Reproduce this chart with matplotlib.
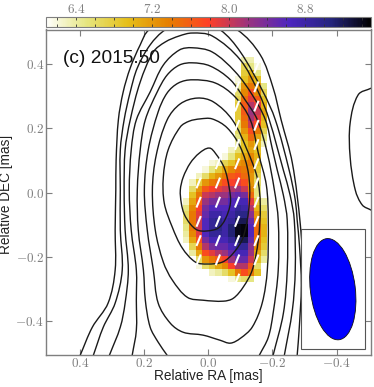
import numpy as np
import matplotlib
matplotlib.use('Agg')
import matplotlib.pyplot as plt
from matplotlib.path import Path
from matplotlib.patches import PathPatch, Rectangle, Ellipse

n = np.nan

# polarized flux map, rows from north to south, 0.02 mas cells
map_extent = [0.08, -0.18, -0.28, 0.42]
pol_map = [
    [n, n, n, n, n, n, n, n, n, 6.35, 6.35, n, n],
    [n, n, n, n, n, n, n, n, n, 6.7, 6.5, 6.2, n],
    [n, n, n, n, n, n, n, n, n, 6.8, 7.0, 6.5, n],
    [n, n, n, n, n, n, n, n, 6.2, 6.9, 7.2, 6.9, n],
    [n, n, n, n, n, n, n, n, 6.4, 7.2, 7.4, 7.2, 6.5],
    [n, n, n, n, n, n, n, n, 6.6, 7.3, 7.7, 7.3, 6.7],
    [n, n, n, n, n, n, n, n, 6.7, 7.5, 7.9, 7.6, 6.9],
    [n, n, n, n, n, n, n, n, 6.8, 7.6, 8.1, 7.9, 7.0],
    [n, n, n, n, n, n, n, n, 6.8, 7.6, 8.2, 8.0, 7.1],
    [n, n, n, n, n, n, n, n, 6.8, 7.5, 8.15, 7.9, 7.0],
    [n, n, n, n, n, n, n, n, 6.7, 7.4, 8.0, 7.7, 6.9],
    [n, n, n, n, n, n, n, n, 6.6, 7.2, 7.7, 7.4, 6.7],
    [n, n, n, n, n, n, n, n, 6.5, 7.0, 7.5, 7.1, 6.5],
    [n, n, n, n, n, n, n, n, 6.4, 6.9, 7.2, 6.9, 6.3],
    [n, n, n, n, n, n, n, 6.3, 6.6, 6.9, 7.1, 6.9, n],
    [n, n, n, n, n, n, 6.2, 6.5, 6.9, 7.1, 7.3, 7.0, n],
    [n, n, n, n, 6.2, 6.3, 6.7, 6.9, 7.2, 7.3, 7.4, 6.9, n],
    [n, n, n, 6.2, 6.5, 6.8, 7.1, 7.3, 7.5, 7.4, 7.3, 6.8, n],
    [n, n, 6.3, 6.6, 7.0, 7.2, 7.4, 7.6, 7.7, 7.5, 7.2, 6.7, n],
    [n, 6.3, 6.8, 7.2, 7.4, 7.5, 7.7, 7.8, 7.9, 7.7, 7.2, 6.6, n],
    [n, 6.6, 7.2, 7.6, 7.8, 7.9, 8.0, 8.1, 8.2, 8.0, 7.3, 6.5, n],
    [n, 6.9, 7.4, 8.0, 8.1, 8.2, 8.2, 8.4, 8.5, 8.4, 7.5, 6.5, n],
    [6.3, 7.1, 7.6, 8.2, 8.4, 8.4, 8.4, 8.6, 8.7, 8.7, 7.9, 6.8, 6.4],
    [6.5, 7.3, 7.8, 8.4, 8.6, 8.6, 8.6, 8.7, 8.9, 8.8, 8.1, 7.0, 6.6],
    [6.6, 7.4, 7.9, 8.5, 8.8, 8.8, 8.7, 8.8, 9.0, 9.0, 8.3, 7.2, 6.8],
    [6.6, 7.4, 8.0, 8.6, 8.9, 9.0, 8.8, 8.9, 9.2, 9.2, 8.5, 7.4, 6.9],
    [6.5, 7.4, 8.0, 8.6, 8.9, 9.0, 8.8, 9.1, 9.4, 9.45, 8.6, 7.5, 7.0],
    [6.4, 7.3, 7.9, 8.6, 8.9, 8.9, 8.8, 9.1, 9.4, 9.45, 8.6, 7.5, 7.0],
    [6.3, 7.1, 7.7, 8.4, 8.7, 8.7, 8.7, 8.9, 9.2, 9.2, 8.5, 7.4, 6.9],
    [n, 6.7, 7.4, 8.1, 8.4, 8.5, 8.5, 8.7, 8.9, 8.9, 8.3, 7.3, 6.8],
    [n, 6.4, 7.1, 7.7, 7.9, 8.1, 8.2, 8.5, 8.7, 8.7, 8.2, 7.1, 6.6],
    [n, n, 6.6, 7.2, 7.4, 7.6, 7.8, 8.2, 8.5, 8.5, 8.0, 6.9, 6.4],
    [n, n, 6.2, 6.6, 6.8, 7.1, 7.3, 7.8, 8.1, 8.1, 7.6, 6.6, n],
    [n, n, n, n, 6.3, 6.4, 6.6, 6.9, 7.4, 7.7, 7.4, 6.9, n],
    [n, n, n, n, n, n, n, 6.2, 6.5, 6.6, 6.5, n, n],
]

# total intensity contours (RA, DEC)
c1 = [(-0.003, 0.139), (0.028, 0.123), (0.056, 0.092), (0.078, 0.048), (0.087, 0.008), (0.084, -0.033),
      (0.075, -0.067), (0.056, -0.098), (0.034, -0.117), (0.006, -0.120), (-0.031, -0.111), (-0.053, -0.083),
      (-0.069, -0.033), (-0.065, 0.017), (-0.050, 0.077), (-0.022, 0.123)]
c2 = [(0.025, 0.230), (0.059, 0.223), (0.087, 0.205), (0.125, 0.133), (0.140, 0.048), (0.137, -0.033),
      (0.112, -0.108), (0.081, -0.173), (0.040, -0.217), (0.003, -0.223), (-0.044, -0.217), (-0.078, -0.189),
      (-0.109, -0.139), (-0.128, -0.033), (-0.125, 0.061), (-0.100, 0.142), (-0.059, 0.202), (-0.012, 0.230)]
c3 = [(0.034, 0.295), (0.087, 0.277), (0.128, 0.227), (0.162, 0.117), (0.174, 0.008), (0.165, -0.117),
      (0.140, -0.217), (0.112, -0.273), (0.065, -0.327), (0.016, -0.336), (-0.047, -0.339), (-0.078, -0.330),
      (-0.109, -0.295), (-0.137, -0.242), (-0.156, -0.148), (-0.162, -0.039), (-0.153, 0.045), (-0.121, 0.133),
      (-0.075, 0.227), (-0.016, 0.283)]
c4 = [(0.050, 0.352), (0.093, 0.342), (0.128, 0.311), (0.156, 0.252), (0.187, 0.133), (0.199, 0.008),
      (0.190, -0.117), (0.171, -0.242), (0.156, -0.345), (0.118, -0.408), (0.078, -0.436), (0.016, -0.445),
      (-0.037, -0.461), (-0.069, -0.470), (-0.100, -0.455), (-0.137, -0.420), (-0.168, -0.345), (-0.184, -0.242),
      (-0.187, -0.086), (-0.181, 0.023), (-0.156, 0.123), (-0.131, 0.227), (-0.084, 0.298), (-0.022, 0.342)]
c5 = [(0.128, -0.508), (0.156, -0.467), (0.181, -0.420), (0.196, -0.336), (0.202, -0.242), (0.218, -0.117),
      (0.221, 0.008), (0.212, 0.133), (0.196, 0.227), (0.159, 0.314), (0.128, 0.367), (0.090, 0.398),
      (0.050, 0.405), (-0.006, 0.395), (-0.069, 0.352), (-0.115, 0.289), (-0.153, 0.227), (-0.184, 0.123),
      (-0.206, 0.008), (-0.218, -0.086), (-0.218, -0.242), (-0.202, -0.377), (-0.187, -0.452), (-0.159, -0.508)]
c6 = [(0.237, -0.508), (0.224, -0.430), (0.224, -0.336), (0.224, -0.242), (0.240, -0.117), (0.246, 0.008),
      (0.240, 0.133), (0.224, 0.227), (0.181, 0.314), (0.140, 0.398), (0.090, 0.445), (0.050, 0.452),
      (-0.012, 0.439), (-0.084, 0.377), (-0.137, 0.305), (-0.178, 0.227), (-0.199, 0.139), (-0.215, 0.070),
      (-0.234, -0.008), (-0.246, -0.086), (-0.246, -0.242), (-0.234, -0.377), (-0.202, -0.508)]
c7 = [(0.308, -0.508), (0.274, -0.420), (0.259, -0.345), (0.249, -0.242), (0.259, -0.117), (0.262, 0.008),
      (0.259, 0.133), (0.243, 0.227), (0.212, 0.345), (0.171, 0.439), (0.134, 0.470), (0.090, 0.489),
      (0.050, 0.498), (-0.012, 0.489), (-0.100, 0.414), (-0.156, 0.314), (-0.190, 0.227), (-0.234, 0.070),
      (-0.255, -0.008), (-0.268, -0.086), (-0.271, -0.242), (-0.262, -0.367), (-0.237, -0.508)]
c8 = [(0.358, -0.508), (0.327, -0.420), (0.290, -0.345), (0.268, -0.242), (0.274, -0.117), (0.274, 0.008),
      (0.274, 0.133), (0.262, 0.227), (0.243, 0.314), (0.221, 0.389), (0.181, 0.461), (0.134, 0.508),
      (0.050, 0.545), (-0.037, 0.508), (-0.100, 0.439), (-0.171, 0.314), (-0.209, 0.227), (-0.252, 0.070),
      (-0.271, -0.023), (-0.277, -0.086), (-0.284, -0.164), (-0.290, -0.289), (-0.283, -0.430), (-0.277, -0.508)]
c9 = [(0.399, -0.508), (0.361, -0.420), (0.312, -0.345), (0.290, -0.242), (0.290, -0.117), (0.288, 0.008),
      (0.287, 0.102), (0.280, 0.227), (0.265, 0.314), (0.243, 0.389), (0.212, 0.461), (0.184, 0.508),
      (0.050, 0.570), (-0.090, 0.508), (-0.162, 0.430), (-0.202, 0.327), (-0.227, 0.227), (-0.262, 0.092),
      (-0.287, -0.102), (-0.300, -0.305)]
c10 = [(-0.508, 0.326), (-0.467, 0.305), (-0.442, 0.217), (-0.442, 0.111), (-0.458, 0.008), (-0.480, -0.039),
       (-0.508, -0.055)]
closed_contours = [c1, c2, c3, c4]
open_contours = [c5, c6, c7, c8, c9, c10]

# polarization sticks: column RA -> DEC of each stick
stick_ra = [0.03, -0.03, -0.09, -0.15]
stick_dec = [
    [0.03, -0.03, -0.09, -0.15, -0.21],
    [0.09, 0.03, -0.03, -0.09, -0.15, -0.21],
    [0.33, 0.27, 0.21, 0.15, 0.09, 0.03, -0.03, -0.09, -0.15, -0.21, -0.27],
    [0.39, 0.33, 0.27, 0.21, 0.15, 0.09, 0.03, -0.03, -0.09, -0.15, -0.21],
]
stick_angle = 22
stick_len = 0.036

cbar_ticks = [6.4, 7.2, 8.0, 8.8]
ra_ticks = [0.4, 0.2, 0.0, -0.2, -0.4]
dec_ticks = [0.4, 0.2, 0.0, -0.2, -0.4]

plt.rcParams['mathtext.fontset'] = 'cm'
plt.rcParams['font.family'] = 'Liberation Sans'
grey = '#7f7f7f'


def smooth_path(pts, closed=False):
    # bezier through the read points, tangents scaled by segment length
    pts = np.array(pts)
    m = len(pts)
    verts = [pts[0]]
    codes = [Path.MOVETO]
    last = m if closed else m - 1
    for i in range(last):
        if closed:
            p0, p1, p2, p3 = pts[(i - 1) % m], pts[i], pts[(i + 1) % m], pts[(i + 2) % m]
        else:
            p0, p1, p2, p3 = pts[max(i - 1, 0)], pts[i], pts[i + 1], pts[min(i + 2, m - 1)]
        seg = np.linalg.norm(p2 - p1)
        t1 = (p2 - p0) / np.linalg.norm(p2 - p0)
        t2 = (p3 - p1) / np.linalg.norm(p3 - p1)
        verts += [p1 + t1 * seg / 3, p2 - t2 * seg / 3, p2]
        codes += [Path.CURVE4] * 3
    return Path(verts, codes)


fig = plt.figure(figsize=(3.74, 3.87), dpi=100)
ax = fig.add_axes([45.5 / 374, 1 - 355 / 387, 325.5 / 374, 325.5 / 387])

im = ax.imshow(np.array(pol_map), extent=map_extent, origin='upper', cmap='CMRmap_r', vmin=6.08, vmax=9.49,
               interpolation='nearest', aspect='auto', zorder=1)

for c in closed_contours:
    ax.add_patch(PathPatch(smooth_path(c, closed=True), fill=False, ec='#1a1a1a', lw=1.0, zorder=2))
for c in open_contours:
    ax.add_patch(PathPatch(smooth_path(c), fill=False, ec='#1a1a1a', lw=1.0, zorder=2))

a = np.radians(stick_angle)
for ra, decs in zip(stick_ra, stick_dec):
    for dec in decs:
        dx = 0.5 * stick_len * np.sin(a)
        dy = 0.5 * stick_len * np.cos(a)
        ax.plot([ra + dx, ra - dx], [dec - dy, dec + dy], color='white', lw=1.5, solid_capstyle='butt', zorder=3)

ax.add_patch(Rectangle((-0.2897, -0.488), -0.1985, 0.373, fc='white', ec='#555555', lw=0.8, zorder=4))
ax.add_patch(Ellipse((-0.388, -0.3016), 0.14, 0.318, angle=-7, fc='#0000ff', ec='#111111', lw=0.6, zorder=5))

ax.set_xlim(0.507, -0.507)
ax.set_ylim(-0.507, 0.509)
ax.set_xticks(ra_ticks)
ax.set_yticks(dec_ticks)
ax.set_xticklabels(['$%.1f$' % t for t in ra_ticks], fontsize=9.5, color=grey)
ax.set_yticklabels(['$%.1f$' % t for t in dec_ticks], fontsize=9.5, color=grey)
ax.tick_params(direction='in', top=True, right=True, length=4.5, width=0.8, color=grey)
ax.tick_params(axis='x', pad=1.5)
ax.tick_params(axis='y', pad=1)
for s in ax.spines.values():
    s.set_color(grey)
    s.set_linewidth(1.0)
    s.set_zorder(6)

fig.text(208.7 / 374, 1 - 376 / 387, 'Relative RA [mas]', fontsize=9.8, color='#222222', ha='center', va='center')
fig.text(6.5 / 374, 1 - 194.5 / 387, 'Relative DEC [mas]', fontsize=9.8, color='#222222', ha='center', va='center',
         rotation=90)
ax.text(0.053, 0.897, '(c) 2015.50', transform=ax.transAxes, fontsize=13.8, color='#111111', zorder=7)

cax = fig.add_axes([45.5 / 374, 1 - 26.7 / 387, 325.5 / 374, 10.2 / 387])
cb = fig.colorbar(im, cax=cax, orientation='horizontal', ticklocation='top')
cb.outline.set_edgecolor(grey)
cb.outline.set_linewidth(0.8)
all_ticks = np.arange(6.2, 9.41, 0.2)
cb.set_ticks(all_ticks)
cb.set_ticklabels(['$%.1f$' % t if any(abs(t - k) < 0.01 for k in cbar_ticks) else '' for t in all_ticks])
cax.tick_params(axis='x', which='both', direction='in', top=True, bottom=True, length=2.5, width=0.6,
                color='#333333', labelsize=9.5, labelcolor=grey, pad=0.5)

plt.savefig('out.png', dpi=100)
